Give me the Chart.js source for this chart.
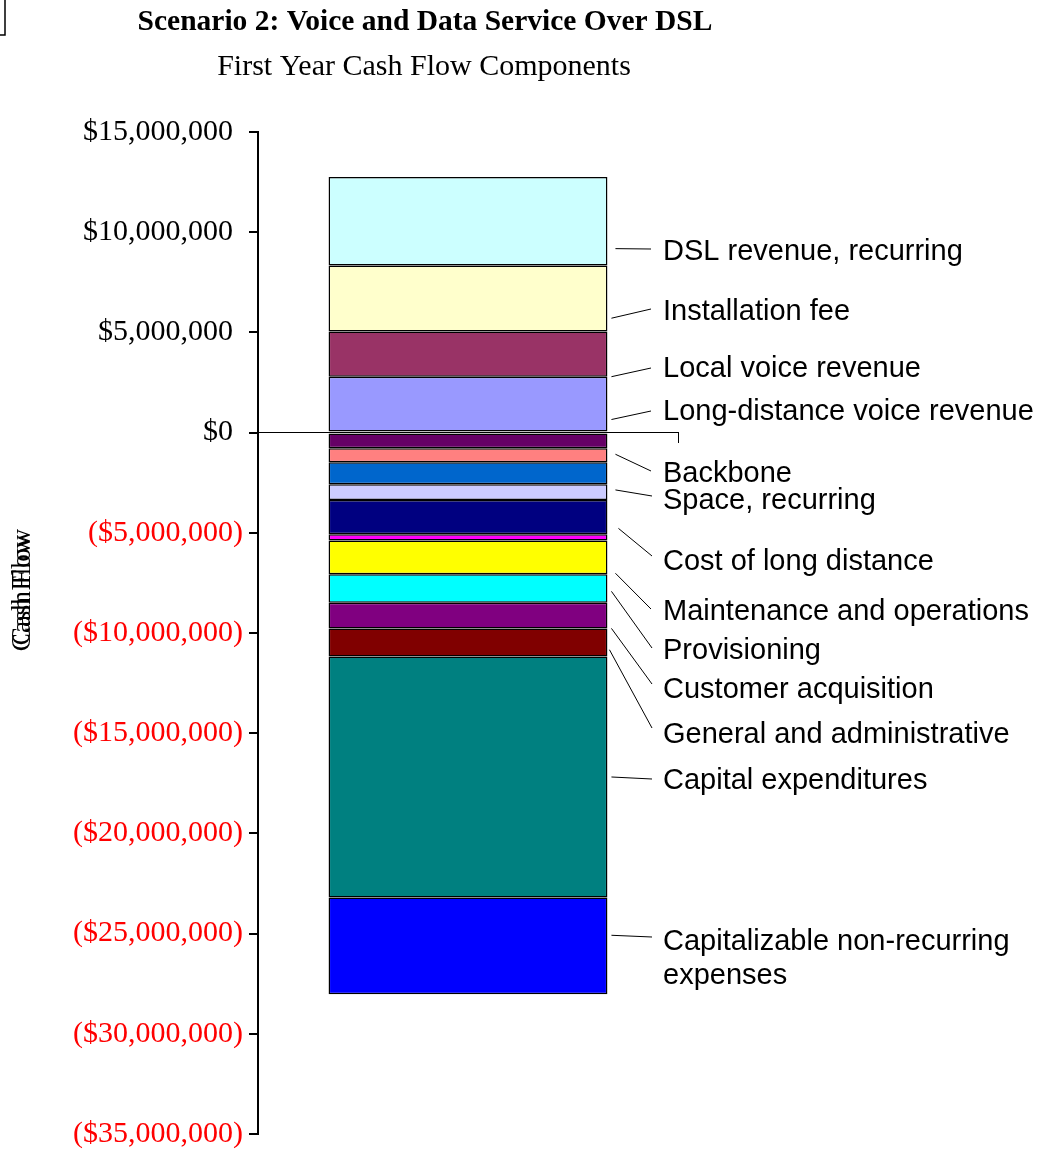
<!DOCTYPE html>
<html>
<head>
<meta charset="utf-8">
<script src="https://cdn.jsdelivr.net/npm/chart.js@4.4.0/dist/chart.umd.min.js"></script>
<style>
  html, body { margin: 0; padding: 0; background: #fff; }
  #wrap { position: relative; width: 1045px; height: 1153px; }
</style>
</head>
<body>
<div id="wrap"><canvas id="cashFlowChart"></canvas></div>
<script>
// data (dollars); order = stacking order away from $0
const categories = ['First year'];
const components = [
  'Long-distance voice revenue',
  'Local voice revenue',
  'Installation fee',
  'DSL revenue, recurring',
  'Unlabeled component 1',
  'Backbone',
  'Unlabeled component 2',
  'Space, recurring',
  'Cost of long distance',
  'Unlabeled component 3',
  'Maintenance and operations',
  'Provisioning',
  'Customer acquisition',
  'General and administrative',
  'Capital expenditures',
  'Capitalizable non-recurring expenses'
];
const values = [
  2790000, 2260000, 3290000, 4420000,
  -780000, -700000, -1100000, -780000, -1710000, -310000,
  -1690000, -1420000, -1280000, -1400000, -12030000, -4830000
];
const colors = [
  '#9999FF', '#993366', '#FFFFCC', '#CCFFFF',
  '#660066', '#FF8080', '#0066CC', '#CCCCFF', '#000080', '#FF00FF',
  '#FFFF00', '#00FFFF', '#800080', '#800000', '#008080', '#0000FF'
];
const yTicks = [15000000, 10000000, 5000000, 0, -5000000, -10000000, -15000000,
  -20000000, -25000000, -30000000, -35000000];

// callout layout: which segment, where on it (0 = top edge, 1 = bottom edge), line/label placement
const callouts = [
  { seg: 3, t: 0.81, dx: 8, x1: 651, y1: 249, ty: 250 },
  { seg: 2, t: 0.80, dx: 4, x1: 651, y1: 309, ty: 310 },
  { seg: 1, t: 1.00, dx: 4, x1: 651, y1: 368, ty: 367 },
  { seg: 0, t: 0.78, dx: 4, x1: 651, y1: 411, ty: 410 },
  { seg: 5, t: 0.43, dx: 8, x1: 651, y1: 471, ty: 472 },
  { seg: 7, t: 0.36, dx: 8, x1: 652, y1: 496, ty: 499 },
  { seg: 8, t: 0.83, dx: 11, x1: 652, y1: 556, ty: 560 },
  { seg: 10, t: 0.97, dx: 8, x1: 651, y1: 609, ty: 610 },
  { seg: 11, t: 0.60, dx: 4, x1: 652, y1: 648, ty: 649 },
  { seg: 12, t: 1.00, dx: 4, x1: 652, y1: 684, ty: 688 },
  { seg: 13, t: 0.76, dx: 2, x1: 652, y1: 728, ty: 733 },
  { seg: 14, t: 0.50, dx: 4, x1: 652, y1: 779, ty: 779 },
  { seg: 15, t: 0.39, dx: 4, x1: 652, y1: 937, ty: 940, lines: ['Capitalizable non-recurring', 'expenses'] }
];

function money(v) {
  const s = '$' + Math.abs(v).toLocaleString('en-US');
  // positives keep room for the closing parenthesis, like the accounting format
  return v < 0 ? '(' + s + ')' : s + ' \u200A';
}

const decorations = {
  id: 'decorations',
  afterDraw(chart) {
    const ctx = chart.ctx;
    ctx.save();
    ctx.fillStyle = '#000';
    ctx.strokeStyle = '#000';

    // titles
    ctx.textAlign = 'center';
    ctx.textBaseline = 'middle';
    ctx.font = 'bold 29.5px "Liberation Serif"';
    ctx.fillText('Scenario 2: Voice and Data Service Over DSL', 425, 22);
    ctx.font = '30px "Liberation Serif"';
    ctx.fillText('First Year Cash Flow Components', 424, 67);

    // stray frame corner at top left
    ctx.lineWidth = 1.5;
    ctx.beginPath();
    ctx.moveTo(5, 0);
    ctx.lineTo(5, 35);
    ctx.lineTo(0, 35);
    ctx.stroke();

    // y axis title, printed twice slightly offset like the original
    ctx.save();
    ctx.translate(23, 590);
    ctx.rotate(-Math.PI / 2);
    ctx.font = '27px "Liberation Serif"';
    ctx.fillText('Cash Flow', -3, 0);
    ctx.fillText('Cash Flow', 3, 0);
    ctx.restore();

    // callouts
    ctx.lineWidth = 1;
    ctx.textAlign = 'left';
    ctx.font = '29px "Liberation Sans"';
    callouts.forEach(c => {
      const el = chart.getDatasetMeta(c.seg).data[0];
      const top = Math.min(el.y, el.base);
      const bottom = Math.max(el.y, el.base);
      const y0 = top + c.t * (bottom - top);
      const x0 = el.x + el.width / 2 + c.dx;
      ctx.beginPath();
      ctx.moveTo(x0, y0);
      ctx.lineTo(c.x1, c.y1);
      ctx.stroke();
      const lines = c.lines || [components[c.seg]];
      lines.forEach((txt, i) => ctx.fillText(txt, 663, c.ty + 2 + i * 34));
    });
    ctx.restore();
  }
};

const chart = new Chart(document.getElementById('cashFlowChart'), {
  type: 'bar',
  data: {
    labels: categories,
    datasets: components.map((name, i) => ({
      label: name,
      data: [values[i]],
      backgroundColor: colors[i],
      borderColor: '#000',
      borderWidth: 1.5,
      borderSkipped: false,
      inflateAmount: 0,
      barPercentage: 0.664,
      categoryPercentage: 1
    }))
  },
  options: {
    responsive: true,
    maintainAspectRatio: false,
    animation: false,
    layout: { padding: { top: 132, right: 367, bottom: 19, left: 0 } },
    plugins: {
      legend: { display: false },
      tooltip: { enabled: false },
      title: { display: false }
    },
    scales: {
      x: {
        stacked: true,
        position: { y: 0 },
        ticks: { display: false },
        grid: { drawOnChartArea: false, color: '#000', lineWidth: 1, tickLength: 10 },
        border: { color: '#000', width: 1 },
        afterFit(scale) { scale.height = 0; }
      },
      y: {
        stacked: true,
        min: yTicks[yTicks.length - 1],
        max: yTicks[0],
        afterBuildTicks(scale) { scale.ticks = yTicks.map(v => ({ value: v })); },
        ticks: {
          padding: 6,
          color: c => (c.tick.value < 0 ? '#FF0000' : '#000'),
          font: { family: 'Liberation Serif', size: 30, lineHeight: 0.8 },
          callback: v => money(v)
        },
        grid: { drawOnChartArea: false, color: '#000', lineWidth: 2, tickLength: 9 },
        border: { color: '#000', width: 2 },
        afterFit(scale) { scale.width = 258; }
      }
    }
  },
  plugins: [decorations]
});
</script>
</body>
</html>
